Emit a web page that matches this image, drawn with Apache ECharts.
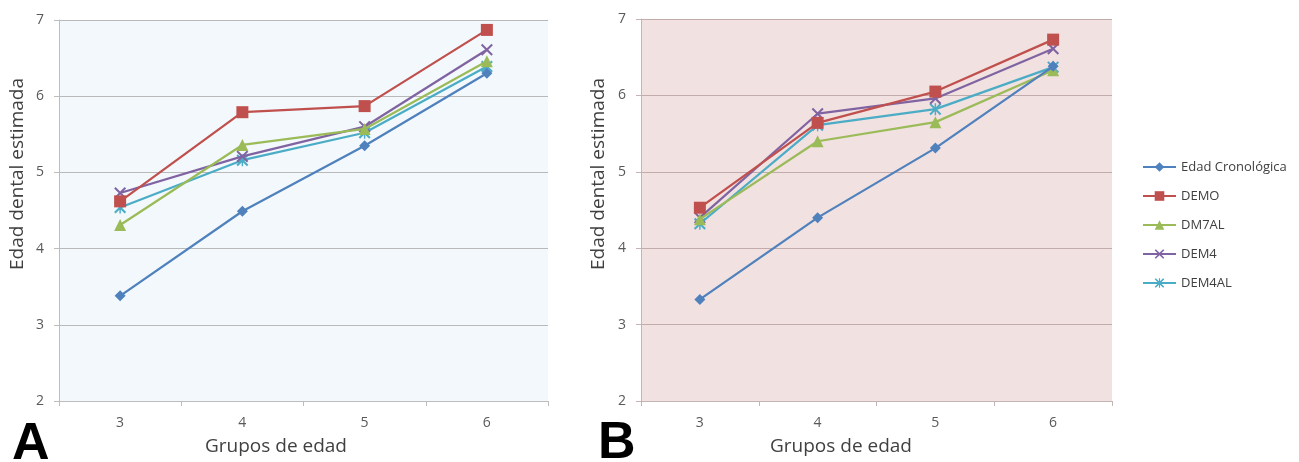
<!DOCTYPE html>
<html>
<head>
<meta charset="utf-8">
<script src="https://cdn.jsdelivr.net/npm/echarts@6/dist/echarts.min.js"></script>
<style>html,body{margin:0;padding:0;background:#fff;}#c{width:1299px;height:462px;}</style>
</head>
<body>
<div id="c"></div>
<script>
var categories = ['3', '4', '5', '6'];
var seriesNames = ['Edad Cronológica', 'DEMO', 'DM7AL', 'DEM4', 'DEM4AL'];
var yTicks = [2, 3, 4, 5, 6, 7];

// Panel A
var A_edad   = [3.38, 4.49, 5.35, 6.30];
var A_demo   = [4.62, 5.79, 5.87, 6.87];
var A_dm7al  = [4.31, 5.36, 5.57, 6.46];
var A_dem4   = [4.73, 5.21, 5.60, 6.61];
var A_dem4al = [4.54, 5.16, 5.52, 6.39];

// Panel B
var B_edad   = [3.33, 4.40, 5.31, 6.38];
var B_demo   = [4.53, 5.64, 6.05, 6.73];
var B_dm7al  = [4.38, 5.40, 5.65, 6.33];
var B_dem4   = [4.40, 5.76, 5.96, 6.61];
var B_dem4al = [4.32, 5.61, 5.82, 6.37];

var colors = ['#4F81BD', '#C0504D', '#9BBB59', '#8064A2', '#4BACC6'];
var crossPath = 'path://M0,1.2L1.2,0L5,3.8L8.8,0L10,1.2L6.2,5L10,8.8L8.8,10L5,6.2L1.2,10L0,8.8L3.8,5Z';
var starPath = 'path://M0,1.2L1.2,0L5,3.8L8.8,0L10,1.2L6.2,5L10,8.8L8.8,10L5,6.2L1.2,10L0,8.8L3.8,5Z M4.4,0L5.6,0L5.6,10L4.4,10Z';
var symbols = ['diamond', 'rect', 'triangle', crossPath, starPath];
var symbolSizes = [11, 12, 12, 12, 12];

var panelA = [A_edad, A_demo, A_dm7al, A_dem4, A_dem4al];
var panelB = [B_edad, B_demo, B_dm7al, B_dem4, B_dem4al];

var FONT = '"Open Sans", sans-serif';
var labelColor = '#595959';

function makeX(gridIndex, axisColor) {
  return {
    type: 'category', gridIndex: gridIndex, data: categories, boundaryGap: true,
    axisLine: { lineStyle: { color: axisColor, width: 1 } },
    axisTick: { show: true, length: 5, lineStyle: { color: axisColor } },
    axisLabel: { color: labelColor, fontSize: 14, fontFamily: FONT, margin: 15 }
  };
}
function makeY(gridIndex, axisColor, gridColor) {
  return {
    type: 'value', gridIndex: gridIndex, min: yTicks[0], max: yTicks[yTicks.length - 1], interval: 1,
    axisLine: { show: true, lineStyle: { color: axisColor, width: 1 } },
    axisTick: { show: true, length: 5, lineStyle: { color: axisColor } },
    axisLabel: { color: labelColor, fontSize: 14, fontFamily: FONT, margin: 15 },
    splitLine: { show: true, lineStyle: { color: gridColor, width: 1 } }
  };
}

var series = [];
[panelA, panelB].forEach(function (panel, gi) {
  panel.forEach(function (vals, i) {
    series.push({
      name: seriesNames[i], type: 'line', xAxisIndex: gi, yAxisIndex: gi,
      data: vals, symbol: symbols[i], symbolSize: symbolSizes[i], showAllSymbol: true,
      itemStyle: { color: colors[i] },
      lineStyle: { color: colors[i], width: 2.25 },
      z: 10 - i,
      animation: false
    });
  });
});

var chart = echarts.init(document.getElementById('c'), null, { renderer: 'canvas' });
chart.setOption({
  animation: false,
  grid: [
    { left: 59, top: 20, width: 489, height: 381, show: true, backgroundColor: '#F3F8FC', borderWidth: 0 },
    { left: 641, top: 19, width: 471, height: 382, show: true, backgroundColor: '#F2E1E1', borderWidth: 0 }
  ],
  xAxis: [makeX(0, '#BDBDBD'), makeX(1, '#C4B4B4')],
  yAxis: [makeY(0, '#BDBDBD', '#B9B9B9'), makeY(1, '#C4B4B4', '#C2ABAB')],
  legend: {
    data: seriesNames, orient: 'vertical', left: 1137, top: 155,
    itemWidth: 33, itemHeight: 12, itemGap: 15,
    textStyle: { color: '#404040', fontSize: 13, fontFamily: FONT, lineHeight: 14 }
  },
  graphic: [
    { type: 'text', x: 18, y: 174, rotation: Math.PI / 2,
      style: { text: 'Edad dental estimada', font: '19px ' + FONT, fill: '#404040', textAlign: 'center', textVerticalAlign: 'middle' } },
    { type: 'text', x: 599, y: 174, rotation: Math.PI / 2,
      style: { text: 'Edad dental estimada', font: '19px ' + FONT, fill: '#404040', textAlign: 'center', textVerticalAlign: 'middle' } },
    { type: 'text', x: 276, y: 447,
      style: { text: 'Grupos de edad', font: '19px ' + FONT, fill: '#404040', textAlign: 'center', textVerticalAlign: 'middle' } },
    { type: 'text', x: 841, y: 447,
      style: { text: 'Grupos de edad', font: '19px ' + FONT, fill: '#404040', textAlign: 'center', textVerticalAlign: 'middle' } },
    { type: 'text', x: 12, y: 445,
      style: { text: 'A', font: 'bold 52px "Liberation Sans", Arial, sans-serif', fill: '#000', textAlign: 'left', textVerticalAlign: 'middle' } },
    { type: 'text', x: 598, y: 444,
      style: { text: 'B', font: 'bold 52px "Liberation Sans", Arial, sans-serif', fill: '#000', textAlign: 'left', textVerticalAlign: 'middle' } }
  ],
  series: series
});
</script>
</body>
</html>
